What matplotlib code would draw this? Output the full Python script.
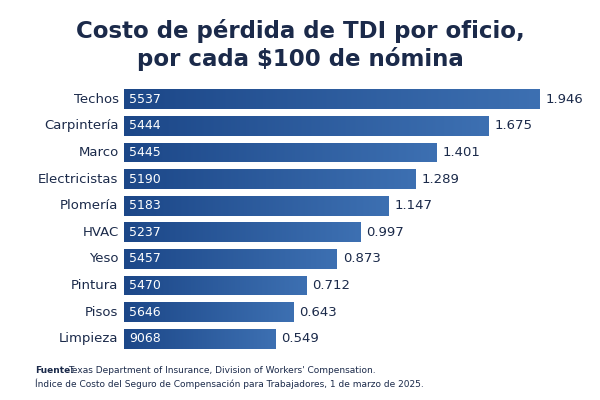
import numpy as np
import matplotlib.pyplot as plt
from matplotlib.colors import LinearSegmentedColormap

# ── Data ──────────────────────────────────────────
oficios = ["Techos", "Carpintería", "Marco", "Electricistas", "Plomería",
           "HVAC", "Yeso", "Pintura", "Pisos", "Limpieza"]
codigos = ["5537", "5444", "5445", "5190", "5183",
           "5237", "5457", "5470", "5646", "9068"]
costos = [1.946, 1.675, 1.401, 1.289, 1.147, 0.997, 0.873, 0.712, 0.643, 0.549]

BASE = -0.254   # bars start left of zero in the original
NAVY = "#1b2a4a"
cmap = LinearSegmentedColormap.from_list("azul", ["#1c4788", "#3d70b2"])

fig = plt.figure(figsize=(6, 4), dpi=100)
ax = fig.add_axes([0.207, 0.12, 0.743, 0.665])
ax.set_xlim(BASE, 2.105)
ax.set_ylim(len(oficios) - 0.5, -0.5)
ax.axis("off")

grad = np.linspace(0, 1, 256).reshape(1, -1)
for i, (nombre, cod, v) in enumerate(zip(oficios, codigos, costos)):
    bars = ax.barh(i, v - BASE, left=BASE, height=0.74, color="none")
    rect = bars[0]
    im = ax.imshow(grad, cmap=cmap, aspect="auto",
                   extent=[BASE, v, i + 0.37, i - 0.37], zorder=2)
    im.set_clip_path(rect)
    ax.text(BASE + 0.025, i, cod, color="white", fontsize=9,
            va="center", ha="left", zorder=3)
    ax.text(v + 0.03, i, f"{v:.3f}", color=NAVY, fontsize=9.5,
            va="center", ha="left")
    ax.text(BASE - 0.03, i, nombre, color=NAVY, fontsize=9.5,
            va="center", ha="right")

fig.text(0.5, 0.888, "Costo de pérdida de TDI por oficio,\npor cada $100 de nómina",
         ha="center", va="center", fontsize=16.5, fontweight="bold",
         color=NAVY, linespacing=1.2)

fig.text(0.058, 0.068, "Fuente:", fontsize=6.5, fontweight="bold", color=NAVY)
fig.text(0.113, 0.068, "Texas Department of Insurance, Division of Workers' Compensation.",
         fontsize=6.5, color=NAVY)
fig.text(0.058, 0.033, "Índice de Costo del Seguro de Compensación para Trabajadores, 1 de marzo de 2025.",
         fontsize=6.5, color=NAVY)

fig.savefig("out.png", dpi=100)
